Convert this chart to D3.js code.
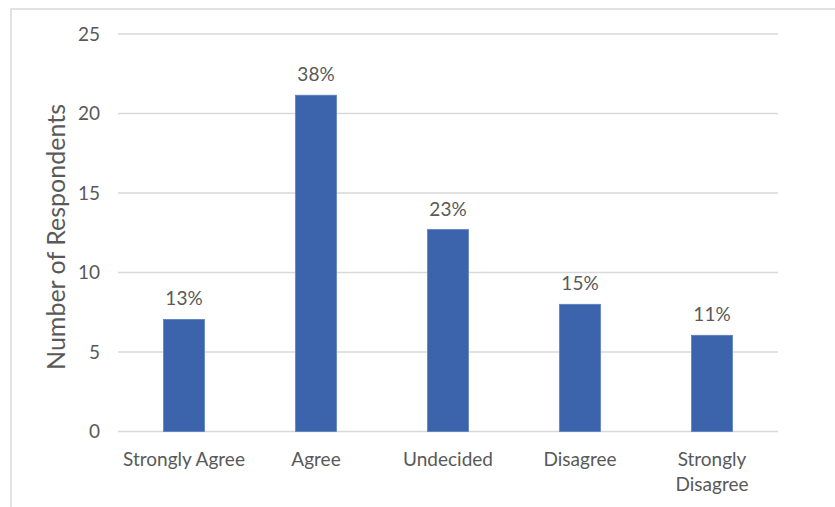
<!DOCTYPE html>
<html>
<head>
<meta charset="utf-8">
<script src="https://cdn.jsdelivr.net/npm/d3@7"></script>
<style>
  html, body { margin: 0; padding: 0; background: #ffffff; }
  svg { display: block; }
  text { font-family: Lato, "Open Sans", sans-serif; fill: #595959; }
</style>
</head>
<body>
<svg id="chart" width="835" height="507"></svg>
<script>
const categories = ["Strongly Agree", "Agree", "Undecided", "Disagree", "Strongly Disagree"];
const respondents = [7.05, 21.15, 12.7, 8.0, 6.05];
const percentLabels = ["13%", "38%", "23%", "15%", "11%"];
const yTicks = [0, 5, 10, 15, 20, 25];
const yTitle = "Number of Respondents";

const svg = d3.select("#chart");
const W = 835, H = 507;
const plot = { left: 118, right: 778, top: 34, bottom: 431.5 };

// outer border (partially visible, like the reference crop)
svg.append("rect")
  .attr("x", 11).attr("y", 9)
  .attr("width", W + 20).attr("height", H + 20)
  .attr("fill", "none")
  .attr("stroke", "#d9d9d9")
  .attr("stroke-width", 1.5);

const x = d3.scaleBand()
  .domain(categories)
  .range([plot.left, plot.right])
  .paddingInner(0.69)
  .paddingOuter(0.345);

const y = d3.scaleLinear()
  .domain([0, 25])
  .range([plot.bottom, plot.top]);

// gridlines
svg.append("g")
  .selectAll("line")
  .data(yTicks)
  .join("line")
  .attr("x1", plot.left).attr("x2", plot.right)
  .attr("y1", d => y(d)).attr("y2", d => y(d))
  .attr("stroke", "#d9d9d9")
  .attr("stroke-width", 1.3);

// y axis labels
const yAxis = svg.append("g")
  .attr("transform", `translate(${plot.left},0)`)
  .call(d3.axisLeft(y).tickValues(yTicks).tickSize(0).tickPadding(18));
yAxis.select(".domain").remove();
yAxis.selectAll("text")
  .style("font-family", "Lato, 'Open Sans', sans-serif")
  .style("font-size", "19px")
  .attr("fill", "#595959");

// bars
svg.append("g")
  .selectAll("rect")
  .data(respondents)
  .join("rect")
  .attr("x", (d, i) => x(categories[i]))
  .attr("y", d => y(d))
  .attr("width", x.bandwidth())
  .attr("height", d => y(0) - y(d))
  .attr("fill", "#3b64ad")
  .attr("stroke", "#5a7fc2")
  .attr("stroke-width", 0.8);

// data labels
svg.append("g")
  .selectAll("text")
  .data(respondents)
  .join("text")
  .attr("x", (d, i) => x(categories[i]) + x.bandwidth() / 2)
  .attr("y", d => y(d) - 14)
  .attr("text-anchor", "middle")
  .style("font-size", "19px")
  .text((d, i) => percentLabels[i]);

// x axis labels
const xAxis = svg.append("g")
  .attr("transform", `translate(0,${plot.bottom})`)
  .call(d3.axisBottom(x).tickSize(0).tickPadding(0));
xAxis.select(".domain").remove();
xAxis.selectAll("text")
  .style("font-family", "Lato, 'Open Sans', sans-serif")
  .style("font-size", "19px")
  .attr("fill", "#595959")
  .attr("dy", null)
  .attr("y", 34)
  .each(function(d) {
    const t = d3.select(this);
    if (this.getComputedTextLength() > x.step()) {
      const words = d.split(" ");
      t.text(null);
      t.append("tspan").attr("x", 0).attr("y", 34).text(words.slice(0, -1).join(" "));
      t.append("tspan").attr("x", 0).attr("y", 59).text(words[words.length - 1]);
    }
  });

// y title
svg.append("text")
  .attr("transform", `translate(65,237) rotate(-90)`)
  .attr("text-anchor", "middle")
  .style("font-size", "25px")
  .text(yTitle);
</script>
</body>
</html>
